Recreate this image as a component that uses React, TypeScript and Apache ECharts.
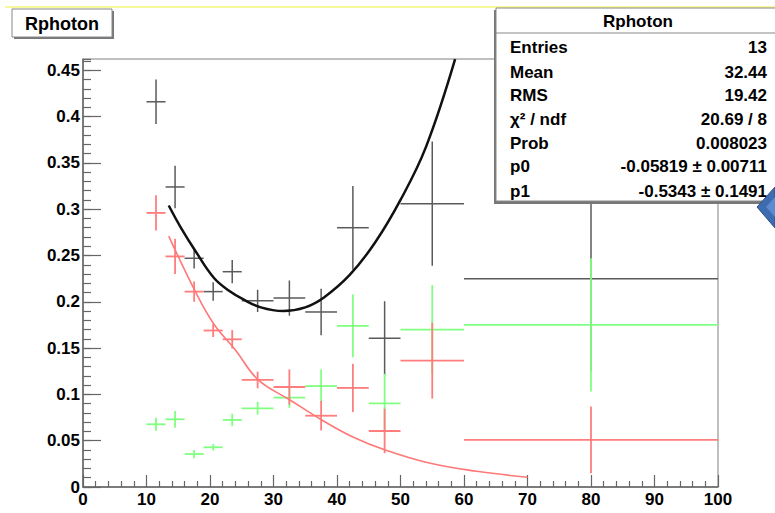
import React, { useEffect, useRef } from 'react';
import * as echarts from 'echarts';

// Bin edges of the histogram (x)
const binEdges = [10, 13, 16, 19, 22, 25, 30, 35, 40, 45, 50, 60, 100];

// Series values and vertical errors, one per bin
const blackVals = [0.416, 0.324, 0.247, 0.211, 0.2325, 0.201, 0.204, 0.189, 0.28, 0.1606, 0.306, 0.225];
const blackErrs = [0.024, 0.023, 0.011, 0.01, 0.0126, 0.012, 0.019, 0.025, 0.045, 0.04, 0.067, 0.1];
const redVals = [0.296, 0.249, 0.211, 0.169, 0.1595, 0.1156, 0.108, 0.077, 0.107, 0.0605, 0.1364, 0.0508];
const redErrs = [0.019, 0.019, 0.011, 0.007, 0.01, 0.009, 0.019, 0.016, 0.026, 0.024, 0.041, 0.036];
const greenVals = [0.0677, 0.0731, 0.0356, 0.0429, 0.0724, 0.085, 0.0965, 0.109, 0.174, 0.0904, 0.17, 0.175];
const greenErrs = [0.007, 0.009, 0.0045, 0.0035, 0.0068, 0.007, 0.011, 0.018, 0.034, 0.032, 0.048, 0.072];

// Fit curves
const blackFitX = [13.5, 15.5, 17.6, 20.6, 23, 25.4, 28, 31.5, 35, 38, 42, 46, 50, 54, 58.6];
const blackFitY = [0.304, 0.279, 0.256, 0.226, 0.212, 0.202, 0.194, 0.19, 0.194, 0.205, 0.229, 0.264, 0.31, 0.367, 0.462];
const redFitX = [13.5, 17.7, 20.6, 24, 27.6, 32.6, 37.6, 42.5, 47.6, 54.7, 62, 70];
const redFitY = [0.271, 0.211, 0.176, 0.148, 0.1156, 0.094, 0.0724, 0.054, 0.04, 0.0256, 0.017, 0.0105];

// Axis ticks
const xTicks = [0, 10, 20, 30, 40, 50, 60, 70, 80, 90, 100];
const yMajorStep = 0.05;
const yMinorStep = 0.01;

// Stats box
const statsTitle = 'Rphoton';
const statLabels = ['Entries', 'Mean', 'RMS', 'χ² / ndf', 'Prob', 'p0', 'p1'];
const statValues = ['13', '32.44', '19.42', '20.69 / 8', '0.008023', '-0.05819 ± 0.00711', '-0.5343 ± 0.1491'];

const FONT = '"Liberation Sans", Arial, Helvetica, sans-serif';

function errSeries(name: string, vals: number[], errs: number[], color: string, lw: number, z: number) {
  const data = vals.map((v, i) => [binEdges[i], binEdges[i + 1], (binEdges[i] + binEdges[i + 1]) / 2, v, errs[i]]);
  return {
    type: 'custom',
    name,
    z,
    clip: true,
    data,
    encode: { x: [0, 1, 2], y: [3] },
    renderItem: (params: any, api: any) => {
      const y = api.value(3);
      const e = api.value(4);
      const xc = api.value(2);
      const lo = api.coord([api.value(0), y]);
      const hi = api.coord([api.value(1), y]);
      const top = api.coord([xc, y + e]);
      const bot = api.coord([xc, y - e]);
      return {
        type: 'group',
        children: [
          { type: 'line', shape: { x1: lo[0], y1: lo[1], x2: hi[0], y2: hi[1] }, style: { stroke: color, lineWidth: lw } },
          { type: 'line', shape: { x1: top[0], y1: top[1], x2: bot[0], y2: bot[1] }, style: { stroke: color, lineWidth: lw } },
        ],
      };
    },
  };
}

export default function App() {
  const ref = useRef<HTMLDivElement>(null);
  useEffect(() => {
    document.body.style.margin = '0';
    const chart = echarts.init(ref.current!, undefined, { renderer: 'svg' });
    const yMax = 0.4622;
    const statsGraphics: any[] = [];
    statLabels.forEach((l, i) => {
      const ys = [47, 72, 95, 119, 143, 166, 191];
      statsGraphics.push({
        type: 'text', z: 101, style: { text: l, x: 510, y: ys[i], fill: '#000', fontSize: 17, fontWeight: 'bold', fontFamily: FONT, textAlign: 'left', textVerticalAlign: 'middle' },
      });
      statsGraphics.push({
        type: 'text', z: 101, style: { text: statValues[i], x: 767, y: ys[i], fill: '#000', fontSize: 17, fontWeight: 'bold', fontFamily: FONT, textAlign: 'right', textVerticalAlign: 'middle' },
      });
    });
    chart.setOption({
      animation: false,
      backgroundColor: '#fff',
      grid: { left: 83, right: 57, top: 59, bottom: 26, show: true, borderColor: '#808080', borderWidth: 1, backgroundColor: 'transparent' },
      xAxis: {
        type: 'value', min: xTicks[0], max: xTicks[xTicks.length - 1], interval: 10,
        axisLine: { show: true, onZero: false, lineStyle: { color: '#666', width: 1.5 } },
        axisTick: { show: true, inside: true, length: 12, lineStyle: { color: '#666', width: 1.2 } },
        minorTick: { show: true, splitNumber: 5, length: 6, lineStyle: { color: '#666', width: 1.2 } },
        splitLine: { show: false },
        axisLabel: { margin: 4, color: '#000', fontSize: 17, fontWeight: 'bold', fontFamily: FONT },
      },
      yAxis: [
        {
          type: 'value', position: 'left', min: 0, max: yMax, interval: yMajorStep,
          axisLine: { show: true, onZero: false, lineStyle: { color: '#666', width: 1.5 } },
          axisTick: { show: true, inside: true, length: 18, lineStyle: { color: '#666', width: 1.2 } },
          splitLine: { show: false },
          axisLabel: {
            margin: 3, color: '#000', fontSize: 17, fontWeight: 'bold', fontFamily: FONT, showMaxLabel: false,
            formatter: (v: number) => (v === 0 ? '0' : String(+v.toFixed(2))),
          },
        },
        {
          type: 'value', position: 'left', min: 0, max: yMax, interval: yMinorStep,
          axisLine: { show: false },
          axisTick: { show: true, inside: true, length: 8, lineStyle: { color: '#666', width: 1.2 } },
          splitLine: { show: false },
          axisLabel: { show: false },
        },
      ],
      series: [
        errSeries('black', blackVals, blackErrs, '#5a5a5a', 1.5, 2),
        errSeries('green', greenVals, greenErrs, '#80ff80', 1.8, 3),
        errSeries('red', redVals, redErrs, '#ff7d7d', 1.8, 4),
        {
          type: 'line', name: 'redfit', z: 5, smooth: 0.4, showSymbol: false, clip: true,
          data: redFitX.map((x, i) => [x, redFitY[i]]),
          lineStyle: { color: '#ff7878', width: 1.6 },
        },
        {
          type: 'line', name: 'blackfit', z: 6, smooth: 0.4, showSymbol: false, clip: true,
          data: blackFitX.map((x, i) => [x, blackFitY[i]]),
          lineStyle: { color: '#111', width: 2.5 },
        },
      ],
      graphic: [
        { type: 'line', z: 100, shape: { x1: 5, y1: 7, x2: 775, y2: 7 }, style: { stroke: '#f4f47a', lineWidth: 1.5 } },
        // title box
        { type: 'rect', z: 100, shape: { x: 14, y: 11, width: 100, height: 28 }, style: { fill: '#777' } },
        { type: 'rect', z: 100, shape: { x: 12, y: 9, width: 100, height: 28 }, style: { fill: '#fff', stroke: '#888', lineWidth: 1 } },
        { type: 'text', z: 101, style: { text: statsTitle, x: 62, y: 24, fill: '#000', fontSize: 18, fontWeight: 'bold', fontFamily: FONT, textAlign: 'center', textVerticalAlign: 'middle' } },
        // stats box
        { type: 'rect', z: 100, shape: { x: 494, y: 10, width: 290, height: 194 }, style: { fill: '#777' } },
        { type: 'rect', z: 100, shape: { x: 496, y: 8, width: 290, height: 193 }, style: { fill: '#fff', stroke: '#888', lineWidth: 1 } },
        { type: 'line', z: 100, shape: { x1: 496, y1: 33, x2: 775, y2: 33 }, style: { stroke: '#888', lineWidth: 1 } },
        { type: 'text', z: 101, style: { text: statsTitle, x: 638, y: 21, fill: '#000', fontSize: 17, fontWeight: 'bold', fontFamily: FONT, textAlign: 'center', textVerticalAlign: 'middle' } },
        ...statsGraphics,
        // blue arrow
        { type: 'polygon', z: 102, shape: { points: [[757, 207], [775, 187], [775, 228]] }, style: { fill: '#3e6cb0', stroke: '#2c4f86', lineWidth: 1 } },
        { type: 'polygon', z: 103, shape: { points: [[766, 207], [775, 197], [775, 217]] }, style: { fill: '#5b8bd0' } },
      ],
    });
    return () => chart.dispose();
  }, []);
  return <div ref={ref} style={{ width: 775, height: 513 }} />;
}
